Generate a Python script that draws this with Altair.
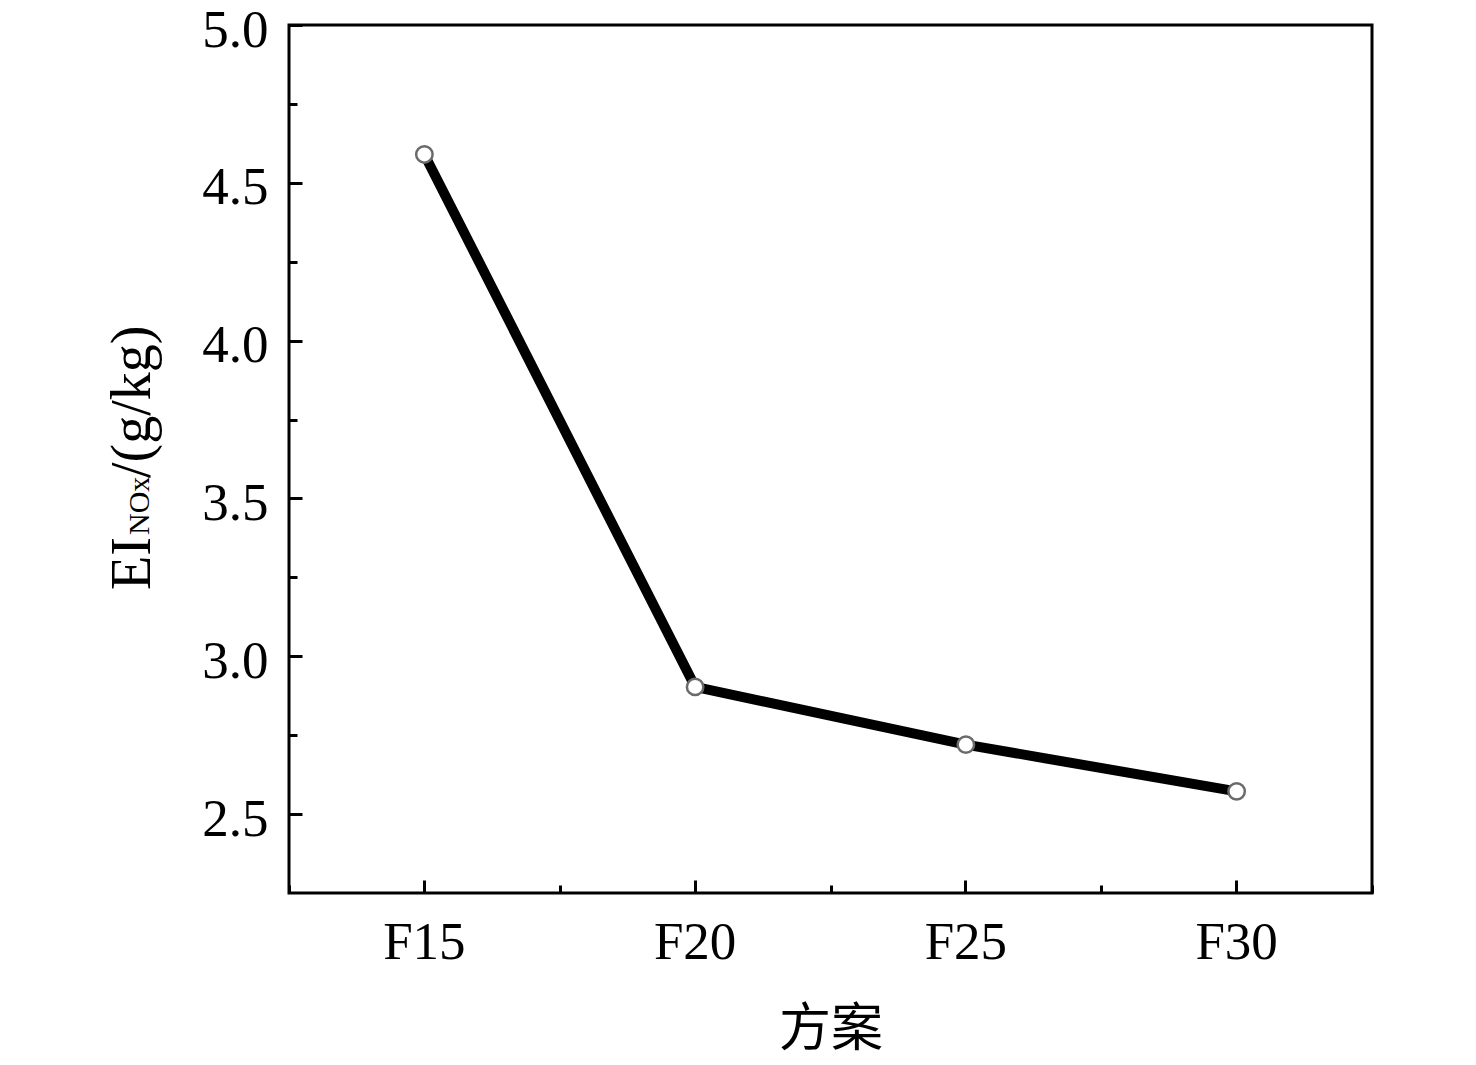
import altair as alt
import pandas as pd

# ---- data ----
schemes = ["F15", "F20", "F25", "F30"]
ei_nox = [4.59, 2.903, 2.72, 2.572]
y_major = [2.5, 3.0, 3.5, 4.0, 4.5, 5.0]
y_minor = [2.75, 3.25, 3.75, 4.25, 4.75]
y_domain = [2.25, 5.0]
x_title = "方案"
y_title_parts = ["EI", "NOx", "/(g/kg)"]

df = pd.DataFrame({"scheme": schemes, "ei": ei_nox})

SERIF = "Liberation Serif"
CJK = "Noto Sans CJK SC"

xscale = alt.Scale(type="band", domain=schemes, paddingInner=0, paddingOuter=0)
yscale = alt.Scale(domain=y_domain, nice=False, zero=False)

base = alt.Chart(df)

line = base.mark_line(color="black", strokeWidth=10).encode(
    x=alt.X(
        "scheme:N", scale=xscale,
        axis=alt.Axis(
            orient="bottom", title=x_title, labelAngle=0, labelFontSize=53,
            labelFont=SERIF, labelColor="black", labelPadding=23, ticks=False,
            tickSize=0, domain=False, grid=False, titleFont=CJK,
            titleFontSize=52, titleFontWeight="normal", titleColor="black",
            titlePadding=35,
        ),
    ),
    y=alt.Y(
        "ei:Q", scale=yscale,
        axis=alt.Axis(
            orient="left", title=None, values=y_major, format=".1f",
            labelFontSize=53, labelFont=SERIF, labelColor="black",
            labelPadding=21, labelOffset=5, ticks=False, tickSize=0,
            domain=False, grid=False,
        ),
    ),
)

points = base.mark_point(
    shape="circle", filled=True, fill="white", stroke="#6a6a6a",
    strokeWidth=2.5, size=270, opacity=1,
).encode(
    x=alt.X("scheme:N", scale=xscale, axis=None),
    y=alt.Y("ei:Q", scale=yscale, axis=None),
)

ticks_major = base.mark_point(opacity=0).encode(
    x=alt.X(
        "scheme:N", scale=xscale,
        axis=alt.Axis(
            orient="bottom", offset=-13, tickSize=13, tickWidth=3,
            tickColor="black", bandPosition=0.5, labels=False, domain=False,
            grid=False, title=None,
        ),
    ),
    y=alt.Y(
        "ei:Q", scale=yscale,
        axis=alt.Axis(
            orient="left", offset=-13, values=y_major, tickSize=13,
            tickWidth=3, tickColor="black", labels=False, domain=False,
            grid=False, title=None,
        ),
    ),
)

ticks_minor = base.mark_point(opacity=0).encode(
    x=alt.X(
        "scheme:N", scale=xscale,
        axis=alt.Axis(
            orient="bottom", offset=-8, tickSize=8, tickWidth=3,
            tickColor="black", tickBand="extent", labels=False, domain=False,
            grid=False, title=None,
        ),
    ),
    y=alt.Y(
        "ei:Q", scale=yscale,
        axis=alt.Axis(
            orient="left", offset=-8, values=y_minor, tickSize=8,
            tickWidth=3, tickColor="black", labels=False, domain=False,
            grid=False, title=None,
        ),
    ),
)


def title_piece(text, size, xpos, ypos):
    return alt.Chart(pd.DataFrame({"t": [text]})).mark_text(
        angle=270, align="left", baseline="alphabetic", font=SERIF,
        fontSize=size, color="black",
    ).encode(text="t:N", x=alt.value(xpos), y=alt.value(ypos))


t1 = title_piece(y_title_parts[0], 56, -139, 565)
t2 = title_piece(y_title_parts[1], 30, -140, 510)
t3 = title_piece(y_title_parts[2], 56, -139, 453)

chart = alt.layer(
    line, points, ticks_major, ticks_minor, t1, t2, t3
).resolve_axis(
    x="independent", y="independent"
).properties(
    width=1083, height=868,
    autosize=alt.AutoSizeParams(type="none"),
    padding={"left": 281, "top": 17, "right": 96, "bottom": 176},
    background="white",
).configure_view(
    stroke="black", strokeWidth=3
)

chart.save("out.html", embed_options={"renderer": "svg", "actions": False})
